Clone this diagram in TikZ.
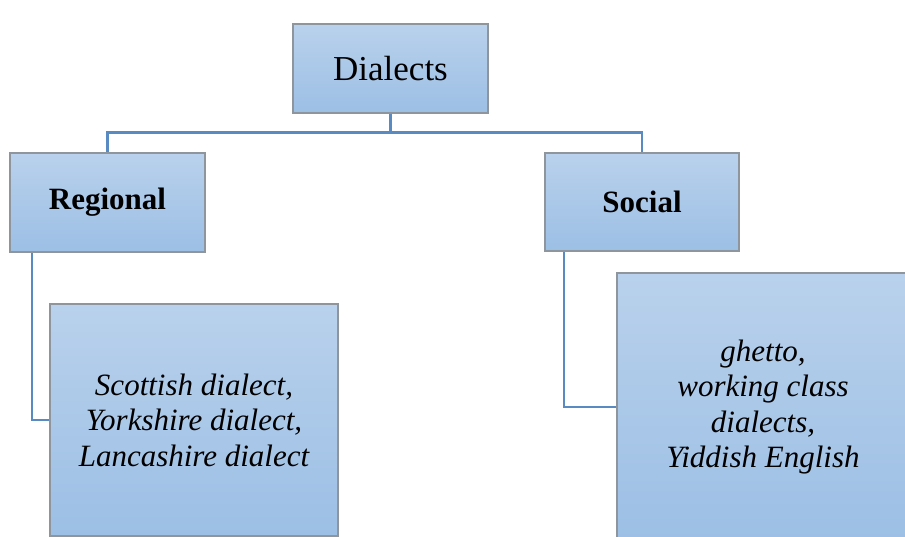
\documentclass[tikz,border=0pt]{standalone}
\usepackage{fontspec}
\setmainfont{Liberation Serif}
\usetikzlibrary{positioning}

\definecolor{boxtop}{HTML}{B9D1EC}
\definecolor{boxbot}{HTML}{9CBFE5}
\definecolor{boxline}{HTML}{8F959C}
\definecolor{linkblue}{HTML}{5A8AC2}

\def\headfont{\fontsize{35}{40}\selectfont}
\def\kindfont{\fontsize{31}{37}\selectfont\bfseries}
\def\listfont{\fontsize{31}{35.5}\selectfont\itshape}

\tikzset{
    dbox/.style={draw=boxline, line width=1.3pt, top color=boxtop, bottom color=boxbot,
        inner sep=0pt, align=center},
    link/.style={draw=linkblue, line width=2.6pt}
}

\begin{document}
\begin{tikzpicture}[x=1pt, y=-1pt]
    \useasboundingbox (0,0) rectangle (905,536);
    % top of the tree
    \node[dbox, font=\headfont, minimum width=195pt, minimum height=89pt] (dialects) at (390.5,68.5) {Dialects};
    % the two kinds
    \node[dbox, font=\kindfont, minimum width=195pt, minimum height=99pt] (regional) at (107.5,202.5) {Regional};
    \node[dbox, font=\kindfont, minimum width=194pt, minimum height=98pt] (social) at (642,202) {Social};
    % examples
    \node[dbox, font=\listfont, minimum width=288pt, minimum height=232pt] (regionallist) at (194,420)
        {Scottish dialect,\\ Yorkshire dialect,\\ Lancashire dialect};
    \node[dbox, font=\listfont, minimum width=292pt, minimum height=268pt] (sociallist) at (763,407)
        {ghetto,\\ working class\\ dialects,\\ Yiddish English};
    % connectors
    \draw[link] (dialects.south) -- ++(0,19) -| (regional.north);
    \draw[link] (dialects.south) -- ++(0,19) -| (social.north);
    \draw[link] ([xshift=-75.5pt]regional.south) |- (regionallist.west);
    \draw[link] ([xshift=-78pt]social.south) |- (sociallist.west);
\end{tikzpicture}
\end{document}
